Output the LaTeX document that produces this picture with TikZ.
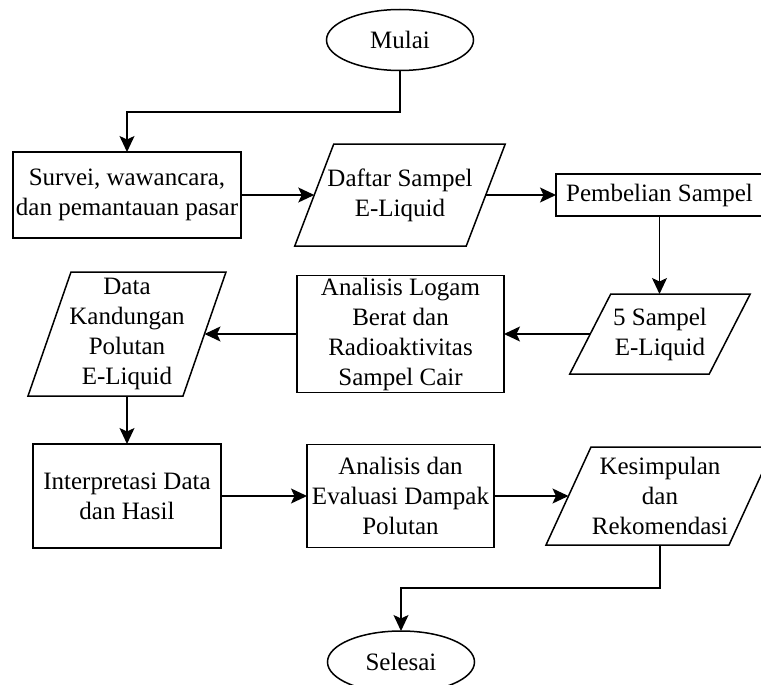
\documentclass[tikz,border=0pt]{standalone}
\usepackage{fontspec}
\setmainfont{Liberation Serif}
\usetikzlibrary{arrows.meta,calc,shapes.geometric}
\tikzset{
  shapeline/.style={draw=black, line width=1.5pt},
  txt/.style={font=\fontsize{25}{30}\selectfont, align=center, inner sep=0pt, outer sep=0pt},
  procbox/.style={txt, shapeline, rectangle},
  term/.style={txt, shapeline, ellipse},
  iobody/.style={txt, rectangle},
  arr/.style={line width=1.5pt, -{Stealth[length=16pt,width=15pt,inset=3.5pt]}},
  conn/.style={line width=1.5pt}
}
\newcommand\iobox[7]{%
  \node[iobody, minimum width=#4pt, minimum height=#5pt] (#1) at (#2,#3) {#7};
  \draw[shapeline] ($(#1.north west)+(#6,0)$) -- ($(#1.north east)+(#6,0)$)
    -- ($(#1.south east)-(#6,0)$) -- ($(#1.south west)-(#6,0)$) -- cycle;}
\begin{document}
\begin{tikzpicture}[x=1pt,y=-1pt]
\useasboundingbox (0,0) rectangle (761,685);
\clip (0,0) rectangle (761,685);
\fill[white] (0,0) rectangle (761,685);

% nodes
\node[term, minimum width=147pt, minimum height=61pt] (mulai) at (400,40) {Mulai};
\node[procbox, minimum width=228pt, minimum height=86pt] (survei) at (127,195)
  {Survei, wawancara,\\dan pemantauan pasar};
\iobox{daftar}{400}{195}{171.5}{102}{19.5}{Daftar Sampel\\E-Liquid}
\node[procbox, minimum width=207pt, minimum height=42pt] (pemb) at (659.5,195) {Pembelian Sampel};
\iobox{sampel}{660}{334}{139.5}{80}{20.5}{5 Sampel\\E-Liquid}
\node[procbox, minimum width=207pt, minimum height=117pt] (analisis) at (400.5,334)
  {Analisis Logam\\Berat dan\\Radioaktivitas\\Sampel Cair};
\iobox{data}{127}{334}{155}{124}{21.5}{Data\\Kandungan\\Polutan\\E-Liquid}
\node[procbox, minimum width=188pt, minimum height=104pt] (interp) at (127,496)
  {Interpretasi Data\\dan Hasil};
\node[procbox, minimum width=187pt, minimum height=103pt] (evalu) at (400.5,496)
  {Analisis dan\\Evaluasi Dampak\\Polutan};
\iobox{kes}{660}{496}{183}{98}{22.5}{Kesimpulan\\dan\\Rekomendasi}
\node[term, minimum width=147pt, minimum height=62pt] (selesai) at (401,662) {Selesai};

% bend points
\coordinate (b1) at (400,112);
\coordinate (b2) at (660,588);

% connectors
\draw[arr] (mulai.south) -- (b1) -| (survei.north);
\draw[arr] (survei.east) -- (daftar.west);
\draw[arr] (daftar.east) -- (pemb.west);
\draw[arr] (pemb.south) -- (pemb.south |- sampel.north);
\draw[arr] (sampel.west) -- (analisis.east);
\draw[arr] (analisis.west) -- (data.east);
\draw[arr] (data.south -| interp.north) -- (interp.north);
\draw[arr] (interp.east) -- (evalu.west);
\draw[arr] (evalu.east) -- (kes.west);
\draw[arr] (kes.south) -- (b2) -| (selesai.north);
\end{tikzpicture}
\end{document}
